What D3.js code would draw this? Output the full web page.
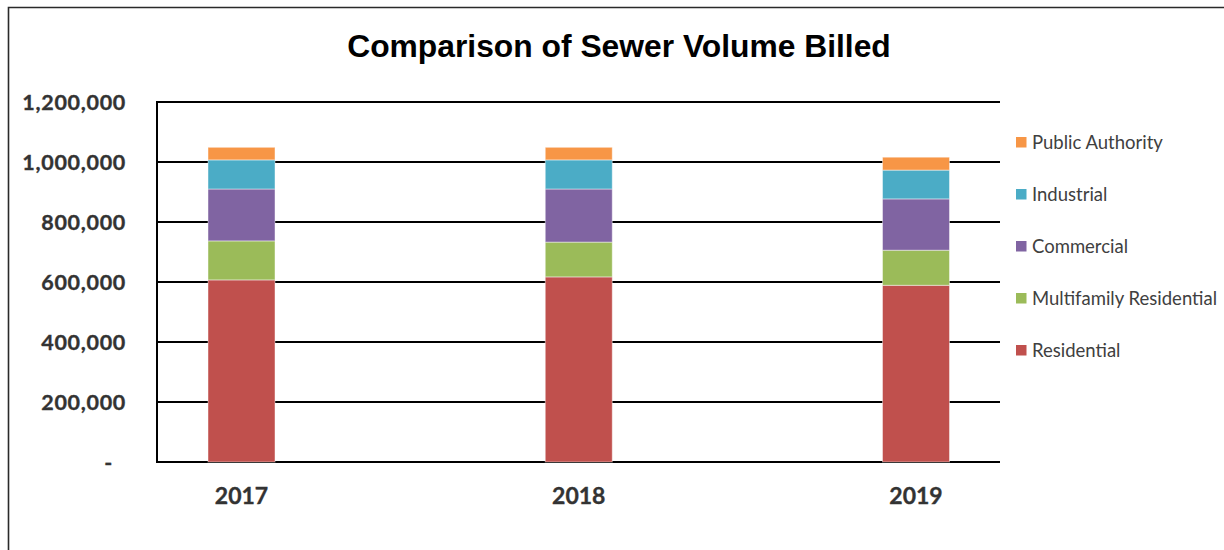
<!DOCTYPE html>
<html>
<head>
<meta charset="utf-8">
<script src="https://cdn.jsdelivr.net/npm/d3@7/dist/d3.min.js"></script>
<style>
  html, body { margin: 0; padding: 0; background: #fff; }
  svg { display: block; }
</style>
</head>
<body>
<svg id="chart" width="1224" height="550"></svg>
<script>
// Sewer volume billed per customer class, by year
const years = ["2017", "2018", "2019"];
const residential = [607000, 617000, 589000];
const multifamily = [130000, 116000, 117000];
const commercial = [173000, 177000, 171000];
const industrial = [97000, 97000, 96000];
const publicAuthority = [42000, 42000, 43000];

const seriesNames = ["Residential", "Multifamily Residential", "Commercial", "Industrial", "Public Authority"];
const seriesColors = ["#C0504D", "#9BBB59", "#8064A2", "#4BACC6", "#F79646"];
const yTicks = [0, 200000, 400000, 600000, 800000, 1000000, 1200000];

const seriesValues = [residential, multifamily, commercial, industrial, publicAuthority];
const rows = years.map((y, i) => {
  const r = { year: y };
  seriesNames.forEach((n, k) => { r[n] = seriesValues[k][i]; });
  return r;
});

const svg = d3.select("#chart");

// chart frame
svg.append("path")
  .attr("d", "M8.5,560 L8.5,7.5 L1230,7.5")
  .attr("fill", "none")
  .attr("stroke", "#2a2a2a")
  .attr("stroke-width", 1.6);

const plot = { left: 157, right: 1000, top: 102, bottom: 462 };

const y = d3.scaleLinear().domain([0, 1200000]).range([plot.bottom, plot.top]);
const x = d3.scalePoint().domain(years).range([241.5, 916]);
const barW = 67;

// title
svg.append("text")
  .attr("x", 619)
  .attr("y", 57)
  .attr("text-anchor", "middle")
  .attr("font-family", "'Liberation Sans', Arial, sans-serif")
  .attr("font-weight", "bold")
  .attr("font-size", 31.8)
  .attr("fill", "#000")
  .text("Comparison of Sewer Volume Billed");

// horizontal gridlines
svg.append("g")
  .selectAll("line")
  .data(yTicks)
  .join("line")
  .attr("x1", plot.left)
  .attr("x2", plot.right)
  .attr("y1", d => y(d))
  .attr("y2", d => y(d))
  .attr("stroke", "#000")
  .attr("stroke-width", 2);

// y axis line
svg.append("line")
  .attr("x1", plot.left).attr("x2", plot.left)
  .attr("y1", y(1200000) - 1).attr("y2", y(0) + 1)
  .attr("stroke", "#000")
  .attr("stroke-width", 2);

// y tick labels
const fmt = d3.format(",");
svg.append("g")
  .selectAll("text")
  .data(yTicks)
  .join("text")
  .attr("x", d => d === 0 ? 113 : 126)
  .attr("y", d => y(d))
  .attr("dy", "0.36em")
  .attr("text-anchor", "end")
  .attr("font-family", "Lato, sans-serif")
  .attr("font-weight", "bold")
  .attr("font-size", 21.5)
  .attr("letter-spacing", 0.7)
  .attr("stroke", "#333")
  .attr("stroke-width", 0.35)
  .attr("fill", "#333")
  .text(d => d === 0 ? "-" : fmt(d));

// stacked bars
const stack = d3.stack().keys(seriesNames);
const layers = stack(rows);

svg.append("g")
  .selectAll("g")
  .data(layers)
  .join("g")
  .attr("fill", (d, i) => seriesColors[i])
  .selectAll("rect")
  .data(d => d)
  .join("rect")
  .attr("x", d => x(d.data.year) - barW / 2)
  .attr("width", barW)
  .attr("y", d => y(d[1]))
  .attr("height", d => y(d[0]) - y(d[1]))
  .attr("stroke", "rgba(255,255,255,0.45)")
  .attr("stroke-width", 1);

// x category labels
svg.append("g")
  .selectAll("text")
  .data(years)
  .join("text")
  .attr("x", d => x(d))
  .attr("y", 496)
  .attr("dy", "0.36em")
  .attr("text-anchor", "middle")
  .attr("font-family", "Lato, sans-serif")
  .attr("font-weight", "bold")
  .attr("font-size", 23)
  .attr("stroke", "#333")
  .attr("stroke-width", 0.35)
  .attr("fill", "#333")
  .text(d => d);

// legend, top item is the top of the stack
const legendOrder = seriesNames.map((n, i) => ({ name: n, color: seriesColors[i] })).reverse();
const legend = svg.append("g")
  .selectAll("g")
  .data(legendOrder)
  .join("g")
  .attr("transform", (d, i) => `translate(1016, ${142 + i * 52})`);

legend.append("rect")
  .attr("x", 0)
  .attr("y", -5)
  .attr("width", 10.5)
  .attr("height", 10.5)
  .attr("fill", d => d.color);

legend.append("text")
  .attr("x", 16)
  .attr("y", 0)
  .attr("dy", "0.36em")
  .attr("font-family", "Lato, sans-serif")
  .attr("font-size", 18.5)
  .attr("fill", "#404040")
  .text(d => d.name);
</script>
</body>
</html>
